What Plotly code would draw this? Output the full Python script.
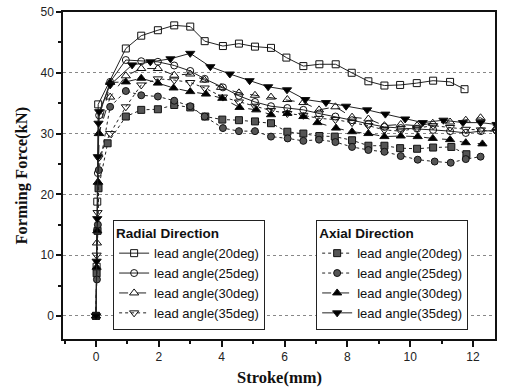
import plotly.graph_objects as go

# ---- data ----
r20_x = [0, 0.02, 0.04, 0.07, 0.95, 1.44, 1.97, 2.49, 3.0, 3.46, 4.04, 4.55, 5.06, 5.57, 6.06, 6.6, 7.11, 7.63, 8.14, 8.67, 9.18, 9.68, 10.21, 10.73, 11.27, 11.73]
r20_y = [0, 8.1, 18.8, 34.8, 44.0, 46.1, 47.0, 47.8, 47.6, 45.2, 44.4, 44.8, 44.3, 44.1, 42.5, 41.1, 41.4, 41.4, 40.0, 38.6, 37.9, 38.0, 38.3, 38.7, 38.5, 37.3]

r25_x = [0, 0.03, 0.06, 0.1, 0.45, 0.95, 1.44, 1.97, 2.49, 3.0, 3.46, 4.04, 4.55, 5.06, 5.57, 6.09, 6.6, 7.1, 7.62, 8.15, 8.67, 9.18, 9.7, 10.22, 10.73, 11.27, 11.77, 12.25, 12.75]
r25_y = [0, 14.0, 23.5, 33.0, 38.5, 42.1, 41.9, 41.8, 41.2, 40.3, 39.0, 37.6, 36.2, 35.2, 34.5, 34.2, 33.9, 33.3, 32.8, 32.2, 31.6, 31.1, 30.9, 30.8, 30.6, 30.4, 30.1, 30.4, 30.5]

r30_x = [0, 0.03, 0.06, 0.09, 0.45, 0.95, 1.44, 1.97, 2.49, 3.0, 3.45, 3.98, 4.55, 5.06, 5.57, 6.09, 6.6, 7.1, 7.62, 8.15, 8.67, 9.18, 9.7, 10.22, 10.72, 11.27, 11.77, 12.24, 12.75]
r30_y = [0, 12.0, 22.0, 30.0, 36.0, 39.5, 40.7, 40.7, 39.6, 39.8, 38.8, 37.6, 36.7, 36.3, 36.0, 35.6, 35.1, 33.9, 34.4, 32.7, 32.4, 31.3, 31.5, 31.3, 31.7, 31.9, 32.2, 32.6, 31.0]

r35_x = [0, 0.02, 0.05, 0.08, 0.45, 0.95, 1.44, 1.97, 2.49, 3.0, 3.46, 4.04, 4.55, 5.06, 5.57, 6.09, 6.6, 7.1, 7.62, 8.15, 8.67, 9.18, 9.7, 10.22, 10.73, 11.27, 11.77, 12.25, 12.75]
r35_y = [0, 10.0, 17.0, 26.0, 30.0, 34.4, 38.0, 39.0, 38.8, 38.4, 37.5, 36.0, 35.2, 34.5, 33.8, 33.3, 33.0, 32.5, 32.3, 31.8, 31.3, 30.6, 30.4, 30.9, 31.3, 31.0, 30.7, 30.6, 30.3]

a20_x = [0, 0.02, 0.05, 0.08, 0.37, 0.95, 1.44, 1.97, 2.49, 3.0, 3.48, 4.02, 4.55, 5.06, 5.57, 6.09, 6.6, 7.11, 7.6, 8.15, 8.67, 9.18, 9.68, 10.22, 10.73, 11.31, 11.79]
a20_y = [0, 7.0, 14.0, 21.0, 28.4, 32.8, 33.9, 34.0, 34.7, 34.3, 32.8, 32.3, 32.2, 32.0, 31.7, 30.3, 30.0, 29.6, 29.5, 28.9, 28.0, 28.0, 27.6, 27.5, 27.7, 27.8, 26.6]

a25_x = [0, 0.03, 0.06, 0.09, 0.45, 0.95, 1.44, 1.97, 2.49, 3.0, 3.46, 4.04, 4.55, 5.06, 5.57, 6.1, 6.6, 7.1, 7.62, 8.15, 8.67, 9.18, 9.7, 10.24, 10.78, 11.29, 11.77, 12.24]
a25_y = [0, 6.0, 15.0, 24.0, 34.4, 37.0, 36.3, 36.1, 35.4, 34.5, 32.8, 30.9, 30.4, 30.4, 29.5, 29.2, 28.8, 29.0, 28.6, 27.8, 27.3, 27.0, 26.3, 25.7, 25.4, 25.2, 25.8, 26.2]

a30_x = [0, 0.02, 0.04, 0.07, 0.1, 0.45, 0.95, 1.44, 1.97, 2.47, 3.0, 3.5, 4.02, 4.57, 5.1, 5.57, 6.09, 6.6, 7.05, 7.64, 8.15, 8.67, 9.18, 9.7, 10.24, 10.72, 11.27, 11.77, 12.3]
a30_y = [0, 8.0, 14.0, 22.0, 30.0, 38.4, 38.5, 39.1, 38.3, 37.5, 36.9, 36.5, 35.8, 34.3, 33.9, 33.1, 33.3, 32.8, 31.8, 30.9, 30.3, 30.0, 29.5, 29.6, 29.5, 29.2, 29.0, 28.5, 28.3]

a35_x = [0, 0.02, 0.04, 0.06, 0.08, 0.1, 0.45, 1.15, 1.73, 2.37, 3.0, 3.64, 4.26, 4.89, 5.48, 6.08, 6.66, 7.32, 7.96, 8.63, 9.21, 9.84, 10.4, 11.06, 11.68, 12.24, 12.75]
a35_y = [0, 9.0, 16.0, 26.2, 31.7, 33.6, 38.0, 41.3, 41.8, 42.3, 43.2, 41.0, 39.8, 38.7, 37.7, 37.2, 35.6, 35.1, 34.5, 33.9, 33.2, 32.4, 31.8, 32.2, 31.8, 31.8, 31.5]

labels = ["lead angle(20deg)", "lead angle(25deg)", "lead angle(30deg)", "lead angle(35deg)"]
x_title = "Stroke(mm)"
y_title = "Forming Force(kN)"

fig = go.Figure()

radial = [
    (r20_x, r20_y, "square-open", "solid", 7),
    (r25_x, r25_y, "circle-open", "solid", 7),
    (r30_x, r30_y, "triangle-up-open", "dash", 8),
    (r35_x, r35_y, "triangle-down-open", "dot", 8),
]
axial = [
    (a20_x, a20_y, "square", "dot", 7, "#555555"),
    (a25_x, a25_y, "circle", "dot", 7, "#555555"),
    (a30_x, a30_y, "triangle-up", "dash", 8, "black"),
    (a35_x, a35_y, "triangle-down", "solid", 8, "black"),
]

for (x, y, sym, dash, sz), lab in zip(radial, labels):
    fig.add_trace(go.Scatter(
        x=x, y=y, mode="lines+markers", name=lab, legend="legend",
        line=dict(color="#222222", width=1, dash=dash),
        marker=dict(symbol=sym, size=sz, color="#111111", line=dict(width=1, color="#111111")),
    ))

for (x, y, sym, dash, sz, col), lab in zip(axial, labels):
    fig.add_trace(go.Scatter(
        x=x, y=y, mode="lines+markers", name=lab, legend="legend2",
        line=dict(color="#222222", width=1, dash=dash),
        marker=dict(symbol=sym, size=sz, color=col, line=dict(width=1, color="#111111")),
    ))

tickfont = dict(family="Liberation Sans, Arial, sans-serif", size=12, color="#222222")
titlefont = dict(family="Liberation Serif, Times New Roman, serif", size=16.5, color="#111111")

fig.update_layout(
    width=508, height=388,
    margin=dict(l=63, r=13, t=12, b=49, autoexpand=False),
    paper_bgcolor="white", plot_bgcolor="white",
    font=tickfont,
    legend=dict(
        title=dict(text="<b>Radial Direction</b>", font=dict(size=13.5, color="#111111")),
        x=0.116, y=0.365, xanchor="left", yanchor="top",
        bgcolor="white", bordercolor="#222222", borderwidth=1,
        font=dict(size=13, color="#111111"), tracegroupgap=0,
    ),
    legend2=dict(
        title=dict(text="<b>Axial Direction</b>", font=dict(size=13.5, color="#111111")),
        x=0.586, y=0.365, xanchor="left", yanchor="top",
        bgcolor="white", bordercolor="#222222", borderwidth=1,
        font=dict(size=13, color="#111111"), tracegroupgap=0,
    ),
    annotations=[
        dict(text="<b>%s</b>" % x_title, xref="paper", yref="paper", x=0.5, y=-0.119,
             xanchor="center", yanchor="middle", showarrow=False, font=titlefont),
        dict(text="<b>%s</b>" % y_title, xref="paper", yref="paper", x=-0.095, y=0.5,
             xanchor="center", yanchor="middle", showarrow=False, textangle=-90, font=titlefont),
    ],
)

fig.update_xaxes(
    range=[-1.05, 12.7], dtick=2, tick0=0, automargin=False,
    showline=True, linecolor="#111111", linewidth=1.5, mirror=True,
    ticks="outside", ticklen=6, tickcolor="#111111", tickwidth=1.5,
    minor=dict(dtick=1, ticks="outside", ticklen=3, tickcolor="#111111", showgrid=False),
    showgrid=False, zeroline=False,
    tickfont=tickfont,
)
fig.update_yaxes(
    range=[-3.8, 50], dtick=10, tick0=0, automargin=False,
    showline=True, linecolor="#111111", linewidth=1.5, mirror=True,
    ticks="outside", ticklen=5, tickcolor="#111111", tickwidth=1.5,
    minor=dict(dtick=5, ticks="outside", ticklen=3, tickcolor="#111111", showgrid=False),
    showgrid=True, gridcolor="#888888", griddash="dot", gridwidth=1,
    zeroline=False,
    tickfont=tickfont,
)

fig.write_html("out.html")
